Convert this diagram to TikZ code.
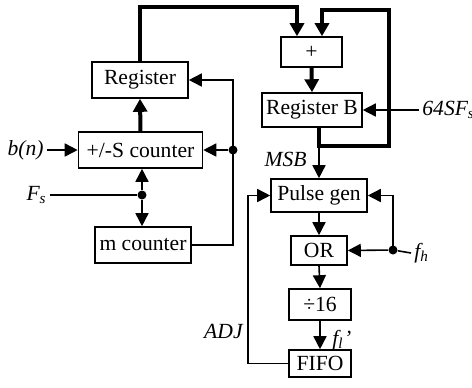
\documentclass[tikz,border=0pt]{standalone}
\usepackage{fontspec}
\setmainfont{Liberation Serif}
\usetikzlibrary{arrows.meta,calc}

\begin{document}
\begin{tikzpicture}[x=0.5pt,y=-0.5pt,
  blk/.style={rectangle,draw,line width=0.8pt,inner sep=0pt,
              minimum height=17pt,font=\fontsize{10.8}{13}\selectfont},
  lbl/.style={inner sep=1.5pt,font=\fontsize{10.8}{13}\selectfont\itshape},
  arr/.style={-{Triangle[length=6.5pt,width=6.5pt]},line width=0.8pt},
  busarr/.style={-{Triangle[length=6.5pt,width=7pt]},line width=2pt},
  dot/.style={circle,fill,inner sep=0pt,minimum size=4.5pt}
]
  \useasboundingbox (0,0) rectangle (472,387);
  \node[blk,minimum width=48pt,minimum height=18pt] (reg) at (140,80) {Register};
  \node[blk,minimum width=62pt,minimum height=18pt] (cnt) at (140.5,150) {+/-S counter};
  \node[blk,minimum width=48pt,minimum height=18pt] (mcnt) at (143,245) {m counter};
  \node[blk,minimum width=30.5pt,minimum height=15pt] (add) at (311.5,52) {+};
  \node[blk,minimum width=50pt] (regb) at (312,110) {Register B};
  \node[blk,minimum width=48pt,minimum height=16.5pt] (pulse) at (319,195.5) {Pulse gen};
  \node[blk,minimum width=28pt,minimum height=14.5pt] (orgate) at (319,250.5) {OR};
  \node[blk,minimum width=31pt,minimum height=15.5pt] (div) at (320,304.5) {÷16};
  \node[blk,minimum width=31pt,minimum height=13.5pt] (fifo) at (320,363.5) {FIFO};

  \node[lbl,anchor=east] (bn) at (47,150) {b(n)};
  \node[lbl,anchor=east] (fs) at (50,195) {F\textsubscript{s}};
  \node[lbl,anchor=west] (sf) at (419,110) {64SF\textsubscript{s}};
  \node[lbl,anchor=east] (msb) at (310,159) {MSB};
  \node[lbl,anchor=west] (fh) at (411,253) {f\textsubscript{h}};
  \node[lbl,anchor=west] (fl) at (329,340) {f\textsubscript{l}\kern0.3pt'};
  \node[lbl,anchor=east] (adj) at (246,331) {ADJ};

  \node[dot] (fsj) at (142,195) {};
  \node[dot] (clkj) at (233,150) {};
  \node[dot] (fhj) at (393,250) {};
  \coordinate (msbj) at (319,146);
  \coordinate (busl) at (297,7);
  \coordinate (busr) at (389,10);
  \coordinate (addin) at (322,10);
  \coordinate (adjx) at (248,363);

  \draw[busarr] (cnt.north) -- (reg.south);
  \draw[busarr] (reg.north) |- (busl) -- (busl |- add.north);
  \draw[busarr] (add.south) -- (regb.north);
  \draw[busarr] (regb.south -| msbj) -- (msbj) -| (busr) -- (addin) -- (addin |- add.north);
  \draw[arr] (msbj) -- (pulse.north);
  \draw[arr] (sf.west) -- (regb.east);
  \draw[arr] (bn.east) -- (cnt.west);
  \draw[line width=0.8pt] (fs.east) -- (fsj);
  \draw[arr] (fsj) -- (fsj |- cnt.south);
  \draw[arr] (fsj) -- (fsj |- mcnt.north);
  \draw[arr] (mcnt.east) -| (clkj.center) |- (reg.east);
  \draw[arr] (clkj) -- (cnt.east);
  \draw[arr] (pulse.south) -- (orgate.north);
  \draw[arr] (orgate.south) -- (div.north);
  \draw[arr] (div.south) -- (fifo.north);
  \draw[line width=0.8pt] (fhj) -- (fh.west);
  \draw[arr] (fhj) -- (orgate.east);
  \draw[arr] (fhj.center) |- (pulse.east);
  \draw[arr] (fifo.west) -- (fifo.west -| adjx) |- (pulse.west);
\end{tikzpicture}
\end{document}
